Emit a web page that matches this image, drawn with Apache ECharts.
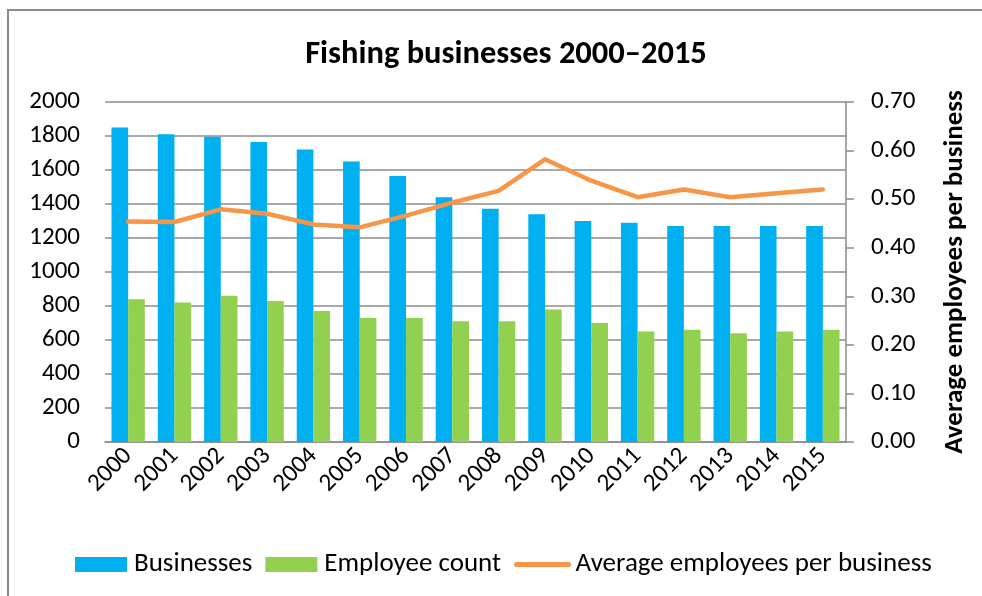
<!DOCTYPE html>
<html>
<head>
<meta charset="utf-8">
<script src="https://cdn.jsdelivr.net/npm/echarts@6/dist/echarts.min.js"></script>
<style>
html,body{margin:0;padding:0;background:#fff;}
#chart{width:982px;height:596px;}
</style>
</head>
<body>
<div id="chart"></div>
<script>
const years = ['2000','2001','2002','2003','2004','2005','2006','2007','2008','2009','2010','2011','2012','2013','2014','2015'];
const businesses = [1850,1810,1795,1765,1720,1650,1565,1440,1372,1340,1300,1290,1270,1270,1270,1270];
const employees = [840,820,860,830,770,730,730,710,710,780,700,650,660,640,650,660];
const avgPerBusiness = [0.454,0.453,0.479,0.470,0.448,0.442,0.466,0.493,0.517,0.582,0.538,0.504,0.520,0.504,0.512,0.520];
const leftTicks = {min:0, max:2000, interval:200};
const rightTicks = {min:0, max:0.7, interval:0.1};

const FONT = 'Carlito, Lato, "Open Sans", sans-serif';
const chart = echarts.init(document.getElementById('chart'), null, {renderer:'canvas'});
chart.setOption({
  animation:false,
  backgroundColor:'#ffffff',
  textStyle:{fontFamily:FONT},
  title:{
    text:'Fishing businesses 2000–2015',
    left:501, top:33, textAlign:'center',
    textStyle:{fontFamily:FONT, fontSize:32.5, fontWeight:'bold', color:'#000'}
  },
  legend:{
    left:75, top:551, padding:0,
    itemWidth:52, itemHeight:15, itemGap:13,
    textStyle:{fontFamily:FONT, fontSize:27, color:'#000', padding:[0,0,0,2]},
    data:[
      {name:'Businesses', icon:'rect'},
      {name:'Employee count', icon:'rect'},
      {name:'Average employees per business', itemStyle:{opacity:0}, lineStyle:{width:5, cap:'round'}}
    ]
  },
  grid:{left:105, right:136, top:102, bottom:154},
  xAxis:{
    type:'category', data:years,
    axisLine:{lineStyle:{color:'#8c8c8c', width:1.5}},
    axisTick:{show:false},
    axisLabel:{rotate:45, fontSize:25, color:'#000', fontFamily:FONT, margin:10, interval:0}
  },
  yAxis:[
    {
      type:'value', min:leftTicks.min, max:leftTicks.max, interval:leftTicks.interval,
      axisLine:{show:false}, axisTick:{show:false},
      axisLabel:{fontSize:25, color:'#000', fontFamily:FONT, margin:25, formatter:v=>String(v)},
      splitLine:{lineStyle:{color:'#8c8c8c', width:1.5}}
    },
    {
      type:'value', position:'right', min:rightTicks.min, max:rightTicks.max, interval:rightTicks.interval,
      name:'Average employees per business', nameLocation:'middle', nameRotate:90, nameGap:96,
      nameTextStyle:{fontFamily:FONT, fontSize:27, fontWeight:'bold', color:'#000'},
      axisLine:{show:true, lineStyle:{color:'#8c8c8c', width:1.5}},
      axisTick:{show:true, length:8, lineStyle:{color:'#8c8c8c', width:1.5}},
      axisLabel:{fontSize:25, color:'#000', fontFamily:FONT, margin:25, formatter:v=>v.toFixed(2)},
      splitLine:{show:false}
    }
  ],
  series:[
    {name:'Businesses', type:'bar', data:businesses, barGap:'0%', barCategoryGap:'28%', itemStyle:{color:'#00B0F0'}},
    {name:'Employee count', type:'bar', data:employees, itemStyle:{color:'#92D050'}},
    {name:'Average employees per business', type:'line', yAxisIndex:1, data:avgPerBusiness,
      symbol:'none', lineStyle:{color:'#F79646', width:4.5, cap:'round', join:'round'}, itemStyle:{color:'#F79646'}}
  ],
  graphic:[{
    type:'rect', shape:{x:8, y:10, width:1000, height:620},
    style:{fill:'none', stroke:'#8c8c8c', lineWidth:2}, silent:true, z:-1
  }]
});
</script>
</body>
</html>
